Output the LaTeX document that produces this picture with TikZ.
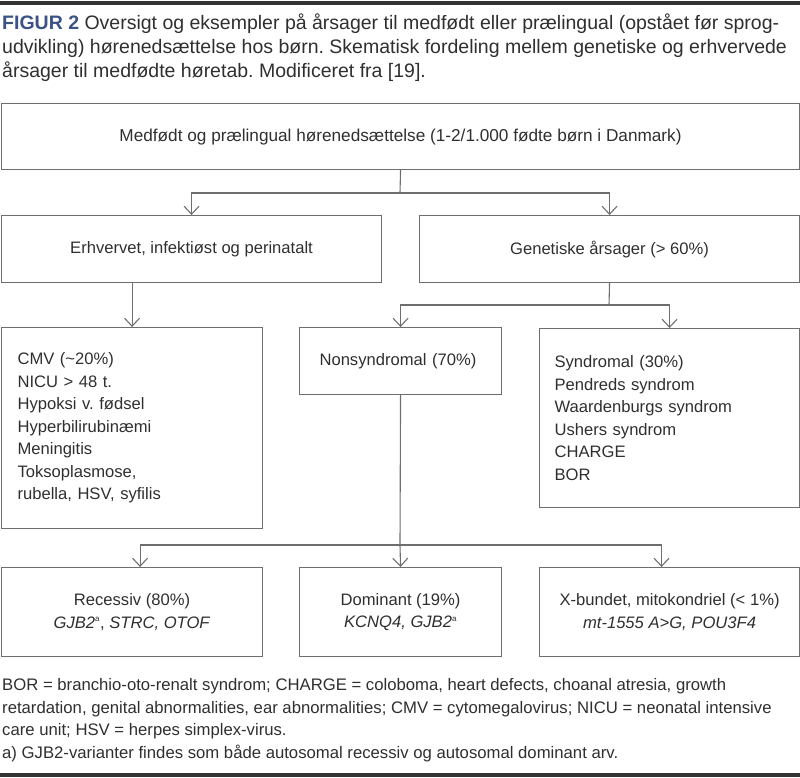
\documentclass[tikz,border=0pt]{standalone}
\usepackage{fontspec}
\setmainfont{Liberation Sans}
\usetikzlibrary{arrows.meta}
\definecolor{linegray}{HTML}{6E6E6E}
\definecolor{txt}{HTML}{2F2F2F}
\definecolor{figblue}{HTML}{3B5284}
\definecolor{rulecol}{HTML}{333333}
\frenchspacing
\begin{document}
\frenchspacing
\begin{tikzpicture}[x=1pt,y=-1pt,
  box/.style={draw=linegray, line width=1.1pt, inner sep=0pt, text=txt,
    font=\fontsize{16.6}{22.5}\selectfont, anchor=north west},
  link/.style={draw=linegray, line width=1.1pt},
  conn/.style={draw=linegray, line width=1.1pt,
    -{Straight Barb[length=8pt,width=15pt,line width=1.1pt]}},
  captext/.style={anchor=base west, inner sep=0pt, text=txt,
    font=\fontsize{19.5}{24}\selectfont},
  legtext/.style={anchor=base west, inner sep=0pt, text=txt,
    font=\fontsize{16.7}{22}\selectfont},
  rulebar/.style={draw=rulecol, line width=3.2pt}
]
\useasboundingbox (0,0) rectangle (800,777);

% rules
\draw[rulebar] (0,3) -- (800,3);
\draw[rulebar] (0,775) -- (800,775);

% caption
\node[captext] (cap1) at (2,29) {\textcolor{figblue}{\bfseries FIGUR 2} Oversigt og eksempler på årsager til medfødt eller prælingual (opstået før sprog-};
\node[captext] (cap2) at (2,53) {udvikling) hørenedsættelse hos børn. Skematisk fordeling mellem genetiske og erhvervede};
\node[captext] (cap3) at (2,77) {årsager til medfødte høretab. Modificeret fra [19].};

% boxes
\node[box, minimum width=798, minimum height=66, font=\fontsize{17.2}{22.5}\selectfont] (top) at (1,103)
  {Medfødt og prælingual hørenedsættelse (1-2/1.000 fødte børn i Danmark)};
\node[box, minimum width=380, minimum height=67] (erh) at (1,215)
  {Erhvervet, infektiøst og perinatalt};
\node[box, minimum width=380, minimum height=67] (gen) at (419,215)
  {Genetiske årsager (> 60\%)};
\node[box, minimum width=261, minimum height=201, inner xsep=16pt, text width=229pt, align=left] (cmv) at (1,327)
  {CMV (\textasciitilde20\%)\\NICU > 48 t.\\Hypoksi v. fødsel\\Hyperbilirubinæmi\\Meningitis\\Toksoplasmose,\\rubella, HSV, syfilis};
\node[box, minimum width=202, minimum height=67, inner xsep=20pt, text width=162pt, align=left] (nons) at (299,327)
  {Nonsyndromal (70\%)};
\node[box, minimum width=260, minimum height=179, inner xsep=15pt, text width=230pt, align=left] (synd) at (539,328)
  {Syndromal (30\%)\\Pendreds syndrom\\Waardenburgs syndrom\\Ushers syndrom\\CHARGE\\BOR};
\node[box, minimum width=261, minimum height=89, align=center] (rec) at (1,567)
  {Recessiv (80\%)\\\textit{GJB2}\textsuperscript{\upshape\footnotesize a}, \textit{STRC, OTOF}};
\node[box, minimum width=202, minimum height=89, align=center] (dom) at (299,567)
  {Dominant (19\%)\\\textit{KCNQ4, GJB2}\textsuperscript{\upshape\footnotesize a}};
\node[box, minimum width=260, minimum height=89, align=center] (xb) at (539,567)
  {X-bundet, mitokondriel (< 1\%)\\\textit{mt-1555 A>G, POU3F4}};

% connectors
\coordinate (j1) at (400,193);
\draw[link] (top.south) -- (j1);
\draw[conn] (j1) -| (erh.north);
\draw[conn] (j1) -| (gen.north);

\draw[conn] (erh.south -| cmv.north) -- (cmv.north);

\coordinate (j2) at (609,305);
\draw[link] (gen.south) -- (j2);
\draw[conn] (j2) -| (nons.north);
\draw[conn] (j2) -| (synd.north);

\coordinate (j3) at (400,545);
\draw[link] (nons.south) -- (j3);
\draw[conn] (j3) -| ([xshift=8pt]rec.north);
\draw[conn] (j3) -- (dom.north);
\draw[conn] (j3) -| ([xshift=-8pt]xb.north);

% legend
\node[legtext] (leg1) at (2,690) {BOR = branchio-oto-renalt syndrom; CHARGE = coloboma, heart defects, choanal atresia, growth};
\node[legtext] (leg2) at (2,713) {retardation, genital abnormalities, ear abnormalities; CMV = cytomegalovirus; NICU = neonatal intensive};
\node[legtext] (leg3) at (2,735) {care unit; HSV = herpes simplex-virus.};
\node[legtext] (leg4) at (2,758) {a) GJB2-varianter findes som både autosomal recessiv og autosomal dominant arv.};
\end{tikzpicture}
\end{document}
